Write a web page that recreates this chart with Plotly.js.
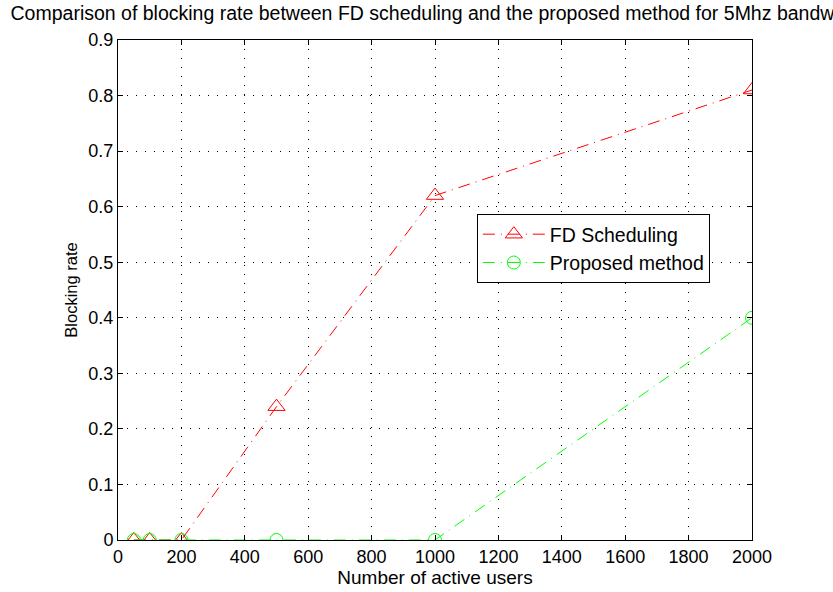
<!DOCTYPE html>
<html><head><meta charset="utf-8">
<script src="https://cdn.plot.ly/plotly-3.0.1.min.js"></script>
<style>body{margin:0;background:#fff}#c{width:833px;height:592px}</style>
</head><body><div id="c"></div>
<script>
var users = [50, 100, 200, 500, 1000, 2000];
var fdRate = [0, 0, 0, 0.24, 0.62, 0.81];
var proposedRate = [0, 0, 0, 0, 0, 0.4];
var xTicks = [0, 200, 400, 600, 800, 1000, 1200, 1400, 1600, 1800, 2000];
var yTicks = [0, 0.1, 0.2, 0.3, 0.4, 0.5, 0.6, 0.7, 0.8, 0.9];

var lineDash = '12px,6px,1px,6px';
var traces = [
  {x: users, y: fdRate, name: 'FD Scheduling', mode: 'lines+markers',
   line: {color: '#ff0000', width: 1, dash: lineDash},
   marker: {symbol: 'triangle-up-open', size: 15, color: '#ff0000', line: {width: 1}}},
  {x: users, y: proposedRate, name: 'Proposed method', mode: 'lines+markers',
   line: {color: '#00ff00', width: 1, dash: lineDash},
   marker: {symbol: 'circle-open', size: 13, color: '#00ff00', line: {width: 1}}}
];

var axisCommon = {
  showline: true, mirror: 'ticks', linecolor: '#000', linewidth: 1,
  ticks: 'inside', ticklen: 5, tickcolor: '#000',
  showgrid: true, gridcolor: '#000', griddash: '1px,8px', gridwidth: 1,
  zeroline: false, tickfont: {size: 18, color: '#000', family: 'Liberation Sans, Arial, sans-serif'}
};

var layout = {
  width: 833, height: 592,
  paper_bgcolor: '#fff', plot_bgcolor: '#fff',
  margin: {l: 118, r: 81, t: 40, b: 52},
  font: {family: 'Liberation Sans, Arial, sans-serif', color: '#000'},
  title: {text: 'Comparison of blocking rate between FD scheduling and the proposed method for 5Mhz bandwidth',
          x: 0.505, xref: 'paper', xanchor: 'center', y: 0.99, yanchor: 'top', font: {size: 19.5, color: '#000'}},
  xaxis: Object.assign({}, axisCommon, {range: [0, 2000], tickvals: xTicks, ticktext: xTicks.map(String),
          title: {text: 'Number of active users', font: {size: 19}, standoff: 3}}),
  yaxis: Object.assign({}, axisCommon, {range: [0, 0.9], tickvals: yTicks, ticktext: yTicks.map(function(v){return v===0?'0':v.toFixed(1);}),
          title: {text: 'Blocking rate', font: {size: 16.5}, standoff: 6}}),
  showlegend: true,
  legend: {x: 0.566, y: 0.652, xanchor: 'left', yanchor: 'top', bgcolor: '#fff',
           bordercolor: '#000', borderwidth: 1, font: {size: 19.5}, tracegroupgap: 0, itemwidth: 62}
};

Plotly.newPlot('c', traces, layout, {displayModeBar: false, staticPlot: true});
</script></body></html>
